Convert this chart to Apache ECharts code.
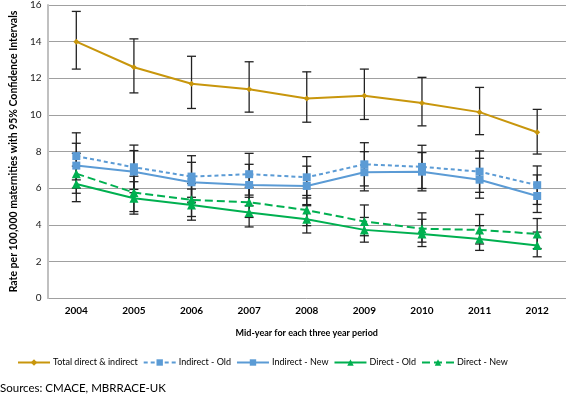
<!DOCTYPE html>
<html>
<head>
<meta charset="utf-8">
<script src="https://cdn.jsdelivr.net/npm/echarts@6/dist/echarts.min.js"></script>
<style>
html, body { margin: 0; padding: 0; background: #fff; }
#chart { width: 567px; height: 399px; }
</style>
</head>
<body>
<div id="chart"></div>
<script>
// 年份（类目轴）
var years = ['2004', '2005', '2006', '2007', '2008', '2009', '2010', '2011', '2012'];

// 各系列数值及95%置信区间上下限
var totalVal  = [14.0, 12.6, 11.7, 11.4, 10.9, 11.05, 10.65, 10.15, 9.05];
var totalHigh = [15.65, 14.15, 13.2, 12.9, 12.35, 12.5, 12.05, 11.5, 10.3];
var totalLow  = [12.5, 11.2, 10.35, 10.15, 9.6, 9.75, 9.4, 8.92, 7.86];

var indOldVal  = [7.75, 7.14, 6.63, 6.76, 6.59, 7.3, 7.16, 6.9, 6.16];
var indOldHigh = [9.02, 8.35, 7.77, 7.9, 7.72, 8.48, 8.34, 8.03, 7.21];
var indOldLow  = [6.45, 5.93, 5.5, 5.62, 5.46, 6.12, 5.98, 5.77, 5.11];

var indNewVal  = [7.23, 6.9, 6.32, 6.17, 6.12, 6.87, 6.9, 6.46, 5.57];
var indNewHigh = [8.45, 8.05, 7.41, 7.3, 7.2, 7.99, 7.94, 7.63, 6.72];
var indNewLow  = [6.0, 5.75, 5.23, 5.04, 5.04, 5.85, 5.85, 5.45, 4.67];

var dirOldVal  = [6.23, 5.45, 5.08, 4.67, 4.3, 3.72, 3.49, 3.22, 2.87];
var dirOldHigh = [7.2, 6.35, 5.95, 5.5, 5.1, 4.4, 4.3, 3.95, 3.6];
var dirOldLow  = [5.26, 4.58, 4.25, 3.88, 3.55, 3.05, 2.81, 2.6, 2.25];

var dirNewVal  = [6.79, 5.76, 5.36, 5.23, 4.8, 4.18, 3.78, 3.72, 3.5];
var dirNewHigh = [7.9, 6.65, 6.25, 6.05, 5.6, 5.08, 4.65, 4.56, 4.34];
var dirNewLow  = [5.72, 4.72, 4.45, 4.4, 3.95, 3.4, 3.05, 2.95, 2.7];

var GOLD = '#c8960c', BLUE = '#5b9bd5', GREEN = '#00b050';
var FONT = 'Lato';

// 误差线数据 [类目索引, 下限, 上限]
function errData(low, high) {
    return years.map(function (y, i) { return [i, low[i], high[i]]; });
}

// 误差线绘制
function errSeries(low, high) {
    return {
        type: 'custom',
        silent: true,
        z: 1,
        data: errData(low, high),
        renderItem: function (params, api) {
            var x = api.value(0);
            var lo = api.coord([x, api.value(1)]);
            var hi = api.coord([x, api.value(2)]);
            var half = 4.5;
            var st = { stroke: '#222', lineWidth: 1.3 };
            return {
                type: 'group',
                children: [
                    { type: 'line', shape: { x1: hi[0], y1: hi[1], x2: lo[0], y2: lo[1] }, style: st },
                    { type: 'line', shape: { x1: hi[0] - half, y1: hi[1], x2: hi[0] + half, y2: hi[1] }, style: st },
                    { type: 'line', shape: { x1: lo[0] - half, y1: lo[1], x2: lo[0] + half, y2: lo[1] }, style: st }
                ]
            };
        }
    };
}

function lineSeries(name, data, color, dash, symbol, size) {
    return {
        name: name,
        type: 'line',
        data: data,
        z: 3,
        symbol: symbol,
        symbolSize: size,
        lineStyle: { color: color, width: 2, type: dash || 'solid' },
        itemStyle: { color: color },
        emphasis: { disabled: true }
    };
}

var chart = echarts.init(document.getElementById('chart'));

var option = {
    backgroundColor: '#fff',
    animation: false,
    grid: { left: 35, right: 1, top: 5, bottom: 101, containLabel: false },
    legend: {
        data: ['Total direct & indirect', 'Indirect - Old', 'Indirect - New', 'Direct - Old', 'Direct - New'],
        left: 12,
        top: 353,
        itemWidth: 32,
        itemHeight: 8,
        itemGap: 5,
        textStyle: { fontFamily: FONT, fontSize: 9, color: '#000', padding: [0, 0, 0, -2] }
    },
    xAxis: {
        type: 'category',
        data: years,
        boundaryGap: true,
        name: 'Mid-year for each three year period',
        nameLocation: 'middle',
        nameGap: 31,
        nameTextStyle: { fontFamily: FONT, fontSize: 9, fontWeight: 'bold', color: '#000' },
        axisLine: { show: false },
        axisTick: { show: false },
        axisLabel: { fontFamily: FONT, fontSize: 10, fontWeight: 'bold', color: '#000', margin: 8 }
    },
    yAxis: {
        type: 'value',
        min: 0,
        max: 16,
        interval: 2,
        name: 'Rate per 100,000 maternities with 95% Confidence Intervals',
        nameLocation: 'middle',
        nameRotate: 90,
        nameGap: 26,
        nameTextStyle: { fontFamily: FONT, fontSize: 10.5, fontWeight: 'bold', color: '#000' },
        axisLine: { show: true, lineStyle: { color: '#c0c0c0', width: 2 } },
        axisTick: { show: false },
        axisLabel: { fontFamily: FONT, fontSize: 10, color: '#222', margin: 6 },
        splitLine: { lineStyle: { color: '#a0a0a0', width: 1 } }
    },
    graphic: [{
        type: 'text',
        left: 0,
        top: 382,
        style: { text: 'Sources: CMACE, MBRRACE-UK', fontFamily: FONT, fontSize: 11.5, fill: '#000' }
    }],
    series: [
        errSeries(totalLow, totalHigh),
        errSeries(indOldLow, indOldHigh),
        errSeries(indNewLow, indNewHigh),
        errSeries(dirOldLow, dirOldHigh),
        errSeries(dirNewLow, dirNewHigh),
        lineSeries('Total direct & indirect', totalVal, GOLD, null, 'diamond', 6),
        lineSeries('Indirect - Old', indOldVal, BLUE, [4, 3], 'rect', 8),
        lineSeries('Indirect - New', indNewVal, BLUE, null, 'rect', 8),
        lineSeries('Direct - Old', dirOldVal, GREEN, null, 'triangle', 9),
        lineSeries('Direct - New', dirNewVal, GREEN, [8, 4], 'triangle', 9)
    ]
};

chart.setOption(option);
</script>
</body>
</html>
